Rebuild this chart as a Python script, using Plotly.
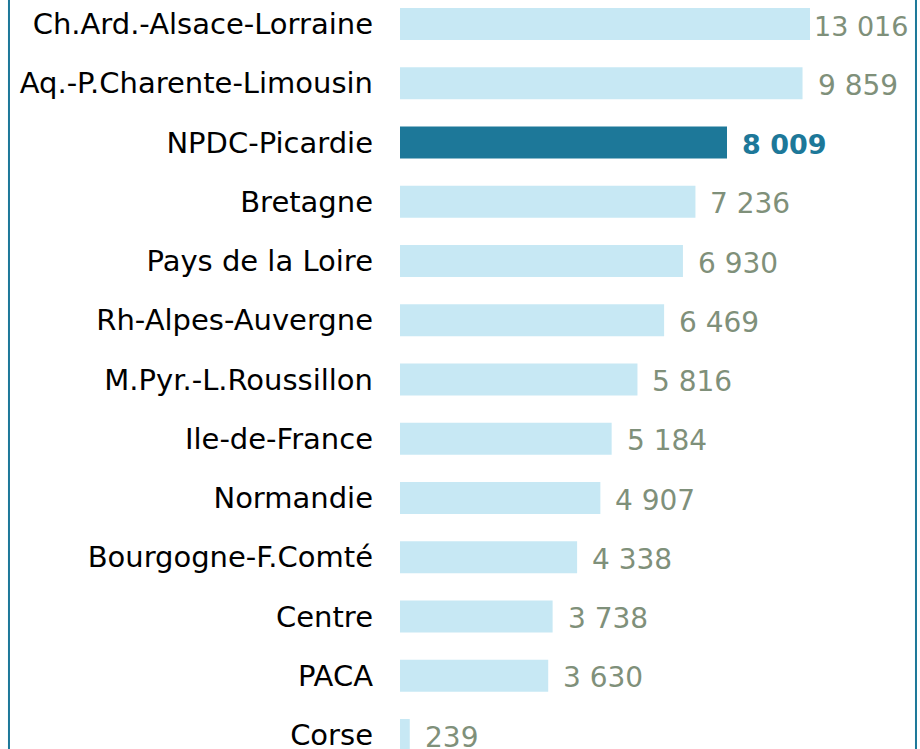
import plotly.graph_objects as go

regions = ["Ch.Ard.-Alsace-Lorraine", "Aq.-P.Charente-Limousin", "NPDC-Picardie", "Bretagne",
           "Pays de la Loire", "Rh-Alpes-Auvergne", "M.Pyr.-L.Roussillon", "Ile-de-France",
           "Normandie", "Bourgogne-F.Comté", "Centre", "PACA", "Corse"]
values = [13016, 9859, 8009, 7236, 6930, 6469, 5816, 5184, 4907, 4338, 3738, 3630, 239]
value_labels = ["13 016", "9 859", "8 009", "7 236", "6 930", "6 469", "5 816", "5 184",
                "4 907", "4 338", "3 738", "3 630", "239"]
highlight = "NPDC-Picardie"

LIGHT = "#c7e8f4"
DARK = "#1d7899"
LABEL_GREY = "#7f907a"
X_MAX = 10042
FONT = "DejaVu Sans, Liberation Sans, Arial, sans-serif"

colors = [DARK if r == highlight else LIGHT for r in regions]

fig = go.Figure(go.Bar(
    x=values, y=regions, orientation="h",
    marker=dict(color=colors, line=dict(width=0)),
    hoverinfo="skip",
))

annotations = []
for r, v, t in zip(regions, values, value_labels):
    clipped = v > X_MAX
    is_hl = r == highlight
    annotations.append(dict(
        x=min(v, X_MAX), y=r, xref="x", yref="y",
        text=f"<b>{t}</b>" if is_hl else t,
        showarrow=False, xanchor="left", yanchor="middle",
        xshift=2 if clipped else 13, yshift=-2,
        font=dict(family=FONT, size=27 if (is_hl or clipped) else 28,
                  color=DARK if is_hl else LABEL_GREY),
    ))

fig.update_layout(
    width=920, height=749,
    margin=dict(l=400, r=110, t=0, b=0, pad=0, autoexpand=False),
    paper_bgcolor="white", plot_bgcolor="white",
    bargap=0.46,
    showlegend=False,
    hovermode=False,
    annotations=annotations,
    xaxis=dict(range=[0, X_MAX], visible=False, fixedrange=True, automargin=False),
    yaxis=dict(
        categoryorder="array", categoryarray=regions,
        range=[12.236, -0.405],
        showgrid=False, zeroline=False, showline=False,
        ticks="", ticklabelstandoff=26, automargin=False,
        tickfont=dict(family=FONT, size=29, color="black"),
        fixedrange=True,
    ),
    shapes=[
        dict(type="line", xref="paper", yref="paper", x0=-0.9537, x1=-0.9537, y0=0, y1=1,
             line=dict(color=DARK, width=2)),
        dict(type="line", xref="paper", yref="paper", x0=1.2585, x1=1.2585, y0=0, y1=1,
             line=dict(color=DARK, width=2)),
    ],
)

fig.write_html(
    "out.html",
    config={"displayModeBar": False, "staticPlot": True},
    post_script="document.body.style.margin='0';document.body.style.overflow='hidden';",
)
